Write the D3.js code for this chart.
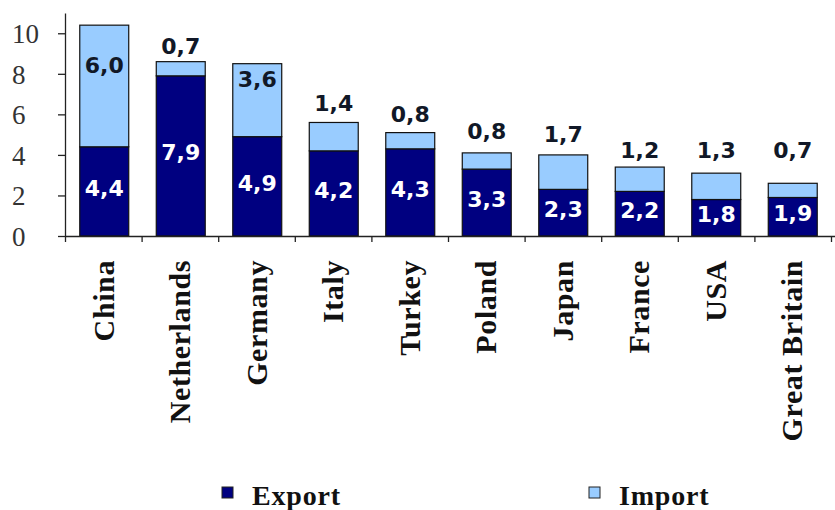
<!DOCTYPE html>
<html>
<head>
<meta charset="utf-8">
<script src="https://cdn.jsdelivr.net/npm/d3@7"></script>
<style>
  html, body { margin: 0; padding: 0; background: #fff; }
  svg { display: block; }
</style>
</head>
<body>
<svg id="chart" width="835" height="510"></svg>
<script>
// Trade by partner country (stacked: export + import)
const countries = ["China", "Netherlands", "Germany", "Italy", "Turkey", "Poland", "Japan", "France", "USA", "Great Britain"];
const exportValues = [4.4, 7.9, 4.9, 4.2, 4.3, 3.3, 2.3, 2.2, 1.8, 1.9];
const importValues = [6.0, 0.7, 3.6, 1.4, 0.8, 0.8, 1.7, 1.2, 1.3, 0.7];
const yTicks = [0, 2, 4, 6, 8, 10];
const seriesNames = ["Export", "Import"];

// Import labels: placed inside the segment for large values, above the bar otherwise.
// Vertical offset of each import label centre relative to the bar top (px, negative = above).
const importLabelOffset = [40, -15, 16, -19, -18, -21, -20, -17, -23, -33];

const colors = { Export: "#000080", Import: "#99ccff" };
const serif = "'Liberation Serif', 'Times New Roman', serif";
const sans = "'DejaVu Sans', Verdana, sans-serif";

const svg = d3.select("#chart");

const x0 = 66, x1 = 831;
const y0 = 236, yTop = 13;

const x = d3.scaleBand().domain(countries).range([x0, x1]).paddingInner(0.36).paddingOuter(0.18);
const y = d3.scaleLinear().domain([0, 11]).range([y0, yTop]);

const rows = countries.map((c, i) => ({ country: c, Export: exportValues[i], Import: importValues[i] }));
const stack = d3.stack().keys(seriesNames)(rows);

// Bars
svg.append("g").selectAll("g")
  .data(stack)
  .join("g")
  .attr("fill", d => colors[d.key])
  .selectAll("rect")
  .data(d => d)
  .join("rect")
  .attr("x", d => x(d.data.country))
  .attr("y", d => y(d[1]))
  .attr("width", x.bandwidth())
  .attr("height", d => y(d[0]) - y(d[1]))
  .attr("stroke", "#111")
  .attr("stroke-width", 1.2);

// Y axis
const yAxis = svg.append("g")
  .attr("transform", `translate(${x0 - 1},0)`)
  .call(d3.axisLeft(y).tickValues(yTicks).tickSize(7).tickSizeOuter(0).tickFormat(d3.format("d")));
yAxis.select(".domain").attr("stroke", "#222").attr("stroke-width", 1.3);
yAxis.selectAll(".tick line").attr("stroke", "#222").attr("stroke-width", 1.3);
yAxis.selectAll(".tick text")
  .attr("x", -(x0 - 1) + 12)
  .attr("text-anchor", "start")
  .attr("dy", "0.34em")
  .attr("fill", "#333")
  .style("font-family", serif)
  .style("font-size", "27px");

// X axis: ticks at category boundaries
const xIdx = d3.scaleLinear().domain([0, countries.length]).range([x0 - 1, x1]);
const xAxis = svg.append("g")
  .attr("transform", `translate(0,${y0})`)
  .call(d3.axisBottom(xIdx).ticks(countries.length).tickSize(6).tickSizeOuter(0).tickFormat(""));
xAxis.select(".domain").attr("stroke", "#222").attr("stroke-width", 1.3).attr("d", `M${x0 - 1},0.5H835`);
xAxis.selectAll(".tick line").attr("stroke", "#222").attr("stroke-width", 1.3);

// Category labels (rotated)
svg.append("g").selectAll("text")
  .data(countries)
  .join("text")
  .attr("transform", d => `translate(${x(d) + x.bandwidth() / 2 - 1},260) rotate(-90)`)
  .attr("text-anchor", "end")
  .attr("dominant-baseline", "central")
  .attr("fill", "#111")
  .style("font-family", serif)
  .style("font-weight", "bold")
  .style("font-size", "30px")
  .style("letter-spacing", "0.6px")
  .text(d => d);

const fmt = v => d3.format(".1f")(v).replace(".", ",");

// Export value labels (centre of the export segment)
svg.append("g").selectAll("text")
  .data(rows)
  .join("text")
  .attr("x", d => x(d.country) + x.bandwidth() / 2)
  .attr("y", d => y(d.Export / 2) - 3)
  .attr("text-anchor", "middle")
  .attr("dominant-baseline", "central")
  .attr("fill", "#fff")
  .style("font-family", sans)
  .style("font-weight", "bold")
  .style("font-size", "22px")
  .text(d => fmt(d.Export));

// Import value labels
svg.append("g").selectAll("text")
  .data(rows)
  .join("text")
  .attr("x", d => x(d.country) + x.bandwidth() / 2)
  .attr("y", (d, i) => y(d.Export + d.Import) + importLabelOffset[i])
  .attr("text-anchor", "middle")
  .attr("dominant-baseline", "central")
  .attr("fill", "#111827")
  .style("font-family", sans)
  .style("font-weight", "bold")
  .style("font-size", "22px")
  .text(d => fmt(d.Import));

// Legend
const legendPos = [{ key: "Export", x: 222 }, { key: "Import", x: 589 }];
const lg = svg.append("g").selectAll("g")
  .data(legendPos)
  .join("g")
  .attr("transform", d => `translate(${d.x},487)`);
lg.append("rect")
  .attr("width", 11).attr("height", 11)
  .attr("fill", d => colors[d.key])
  .attr("stroke", "#222").attr("stroke-width", 1);
lg.append("text")
  .attr("x", 30).attr("y", 18)
  .attr("fill", "#111")
  .style("font-family", serif)
  .style("font-weight", "bold")
  .style("font-size", "28px")
  .style("letter-spacing", "0.8px")
  .text(d => d.key);
</script>
</body>
</html>
